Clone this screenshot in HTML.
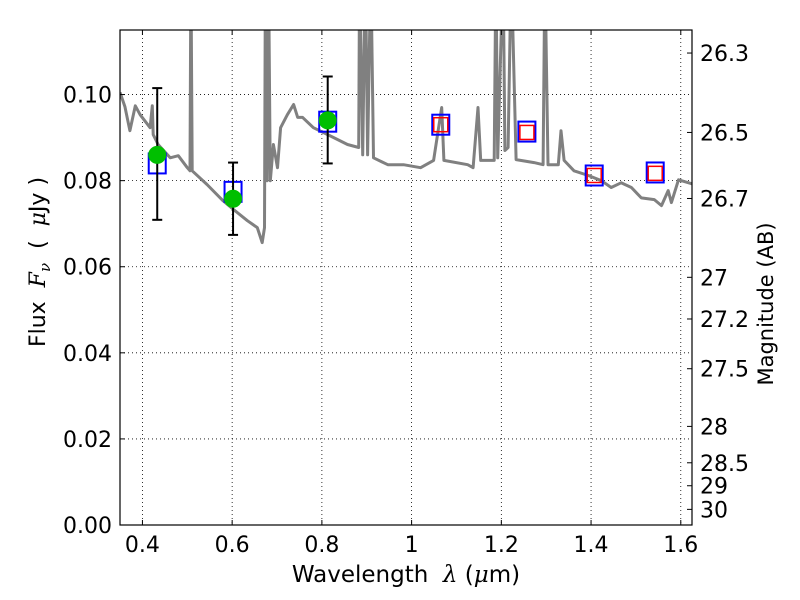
<!DOCTYPE html>
<html><head><meta charset="utf-8"><style>
html,body{margin:0;padding:0;background:#fff}
svg{display:block;font-family:"DejaVu Sans","Liberation Sans",sans-serif}
text{white-space:pre}
</style></head><body>
<svg id="chart" width="800" height="600" viewBox="0 0 800 600" style="position:absolute;left:0;top:0"></svg>
<script>
const specWl=[0.350,0.361,0.372,0.384,0.395,0.417,0.422,0.424,0.435,0.462,0.480,0.500,0.506,0.508,0.511,0.544,0.580,0.603,0.634,0.656,0.667,0.672,0.674,0.678,0.681,0.685,0.692,0.701,0.708,0.723,0.737,0.746,0.757,0.781,0.813,0.857,0.882,0.884,0.891,0.897,0.902,0.909,0.915,0.947,0.982,1.020,1.049,1.067,1.072,1.125,1.137,1.148,1.154,1.184,1.188,1.192,1.204,1.208,1.215,1.222,1.233,1.273,1.293,1.297,1.304,1.327,1.333,1.340,1.362,1.394,1.423,1.445,1.467,1.490,1.512,1.541,1.557,1.572,1.579,1.595,1.630];
const specFlux=[0.1005,0.0972,0.0916,0.0974,0.0953,0.0923,0.0974,0.0907,0.0884,0.0853,0.0858,0.0830,0.0823,0.13,0.0823,0.0791,0.0753,0.0733,0.0707,0.0691,0.0656,0.0691,0.13,0.0800,0.13,0.0800,0.0884,0.0830,0.0923,0.0953,0.0977,0.0947,0.0947,0.0923,0.0907,0.0884,0.0877,0.13,0.0860,0.13,0.0860,0.13,0.0853,0.0837,0.0837,0.0830,0.0847,0.0970,0.0847,0.0837,0.0830,0.0970,0.0847,0.0847,0.13,0.0853,0.13,0.0870,0.0877,0.13,0.0849,0.0842,0.0837,0.13,0.0837,0.0837,0.0916,0.0847,0.0823,0.0812,0.0800,0.0784,0.0795,0.0784,0.0760,0.0756,0.0742,0.0777,0.0749,0.0802,0.0791];
const obsWl=[0.433,0.602,0.813];
const obsFlux=[0.0860,0.0758,0.0940];
const obsHi=[0.1015,0.0842,0.1042];
const obsLo=[0.0709,0.0674,0.0840];
const modelWl=[0.433,0.602,0.813,1.065,1.257,1.407,1.543];
const modelFlux=[0.0840,0.0774,0.0937,0.0930,0.0914,0.0812,0.0819];
const redWl=[1.065,1.257,1.407,1.543];
const redFlux=[0.0930,0.0912,0.0812,0.0817];
const xTicks=[0.4,0.6,0.8,1.0,1.2,1.4,1.6];
const xTickLabels=["0.4","0.6","0.8","1","1.2","1.4","1.6"];
const yTicks=[0,0.02,0.04,0.06,0.08,0.10];
const yTickLabels=["0.00","0.02","0.04","0.06","0.08","0.10"];
const magTicks=[26.3,26.5,26.7,27,27.2,27.5,28,28.5,29,30];
const magLabels=["26.3","26.5","26.7","27","27.2","27.5","28","28.5","29","30"];

const L=120,R=692,T=30,B=525,X0=0.35,X1=1.625,Y0=0,Y1=0.115;
const sx=v=>L+(v-X0)/(X1-X0)*(R-L);
const sy=v=>B-(v-Y0)/(Y1-Y0)*(B-T);
const NS="http://www.w3.org/2000/svg";
const svg=document.getElementById('chart');
function mk(tag,attrs,parent){const e=document.createElementNS(NS,tag);for(const k in attrs)e.setAttribute(k,attrs[k]);(parent||svg).appendChild(e);return e;}

const defs=mk('defs',{});
const cp=mk('clipPath',{id:'clip'},defs);
mk('rect',{x:L,y:T,width:R-L,height:B-T},cp);

const grid=mk('g',{});


xTicks.forEach(t=>{mk('line',{x1:sx(t),x2:sx(t),y1:T,y2:B,stroke:'#000','stroke-width':0.8,'stroke-dasharray':'1,3'},grid);});
yTicks.forEach(t=>{mk('line',{x1:L,x2:R,y1:sy(t),y2:sy(t),stroke:'#000','stroke-width':0.8,'stroke-dasharray':'1,3'},grid);});

const plot=mk('g',{'clip-path':'url(#clip)'});
const pts=specWl.map((w,i)=>sx(w).toFixed(1)+','+sy(specFlux[i]).toFixed(1)).join(' ');
const spec=mk('polyline',{points:pts,fill:'none',stroke:'#808080','stroke-width':3,'stroke-linejoin':'round'},plot);



modelWl.forEach((w,i)=>{
  const r=mk('rect',{x:sx(w)-8.5,y:sy(modelFlux[i])-10,width:17,height:20,fill:'none',stroke:'#0000ff','stroke-width':2},plot);
  
  
});
redWl.forEach((w,i)=>{
  const r=mk('rect',{x:sx(w)-7,y:sy(redFlux[i])-7,width:14,height:14,fill:'none',stroke:'#ff0000','stroke-width':1.5},plot);
  
  
});
obsWl.forEach((w,i)=>{
  const g=mk('g',{},plot);
  
  
  const x=sx(w);
  mk('line',{x1:x,x2:x,y1:sy(obsHi[i]),y2:sy(obsLo[i]),stroke:'#000','stroke-width':2},g);
  mk('line',{x1:x-5,x2:x+5,y1:sy(obsHi[i]),y2:sy(obsHi[i]),stroke:'#000','stroke-width':2},g);
  mk('line',{x1:x-5,x2:x+5,y1:sy(obsLo[i]),y2:sy(obsLo[i]),stroke:'#000','stroke-width':2},g);
  mk('circle',{cx:x,cy:sy(obsFlux[i]),r:8.5,fill:'#00bf00',stroke:'#00bf00'},g);
});

const fr=mk('rect',{x:L,y:T,width:R-L,height:B-T,fill:'none',stroke:'#000','stroke-width':1.2});



xTicks.forEach((t,i)=>{
  const x=sx(t);
  mk('line',{x1:x,x2:x,y1:B,y2:B-5,stroke:'#000'});
  mk('line',{x1:x,x2:x,y1:T,y2:T+5,stroke:'#000'});
  const tx=mk('text',{x:x,y:B+27,'text-anchor':'middle','font-size':22});
  tx.textContent=xTickLabels[i];
  
  
});
yTicks.forEach((t,i)=>{
  const y=sy(t);
  mk('line',{x1:L,x2:L+5,y1:y,y2:y,stroke:'#000'});
  const tx=mk('text',{x:L-8,y:y+8,'text-anchor':'end','font-size':22});
  tx.textContent=yTickLabels[i];
  
  
});
magTicks.forEach((m,i)=>{
  const y=sy(Math.pow(10,(23.9-m)/2.5));
  mk('line',{x1:R,x2:R-5,y1:y,y2:y,stroke:'#000'});
  const tx=mk('text',{x:R+8,y:y+8,'font-size':22});
  tx.textContent=magLabels[i];
  
  
});
</script>
<svg width="800" height="600" style="position:absolute;left:0;top:0;pointer-events:none;font-family:'DejaVu Sans','Liberation Sans',sans-serif">
<text x="406" y="582" text-anchor="middle" font-size="23" xml:space="preserve">Wavelength  <tspan font-style="italic" font-family="DejaVu Serif,serif">λ</tspan> (<tspan font-style="italic" font-family="DejaVu Serif,serif">μ</tspan>m)</text>
<text transform="translate(45,262) rotate(-90)" text-anchor="middle" font-size="22" xml:space="preserve">Flux  <tspan font-style="italic" font-family="DejaVu Serif,serif">F</tspan><tspan font-style="italic" font-family="DejaVu Serif,serif" font-size="15" dy="5">ν</tspan><tspan dy="-5">  (  </tspan><tspan font-style="italic" font-family="DejaVu Serif,serif">μ</tspan>Jy )</text>
<text transform="translate(773,304) rotate(-90)" text-anchor="middle" font-size="21">Magnitude (AB)</text>
</svg>
</body></html>
